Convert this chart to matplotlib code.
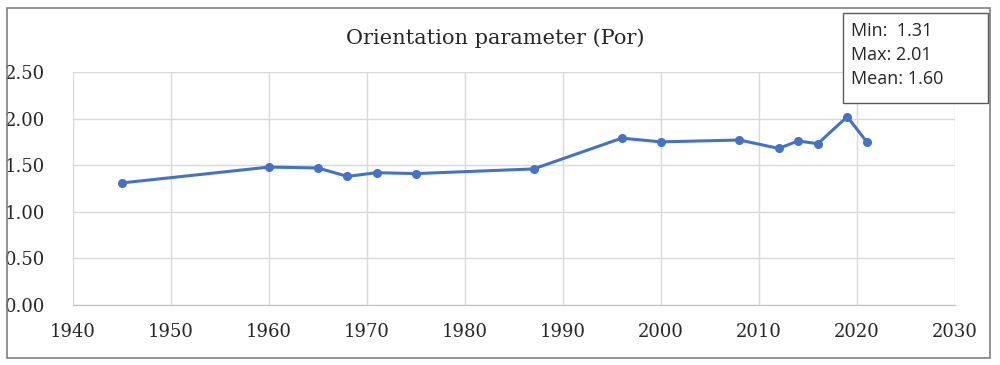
import matplotlib
matplotlib.use("Agg")
import matplotlib.pyplot as plt
from matplotlib.patches import Rectangle

# Orientation parameter values
years = [1945, 1960, 1965, 1968, 1971, 1975, 1987, 1996, 2000, 2008, 2012, 2014, 2016, 2019, 2021]
por = [1.31, 1.48, 1.47, 1.38, 1.42, 1.41, 1.46, 1.79, 1.75, 1.77, 1.68, 1.76, 1.73, 2.02, 1.75]
stats_lines = ["Min:  1.31", "Max: 2.01", "Mean: 1.60"]

fig = plt.figure(figsize=(10, 3.65), dpi=100)
ax = fig.add_axes([0.073, 0.164, 0.882, 0.639])

# outer frame around the whole chart
fig.patches.append(Rectangle((0.007, 0.019), 0.983, 0.959, transform=fig.transFigure,
                             fill=False, edgecolor="#7f7f7f", linewidth=1.2))

ax.plot(years, por, color="#4472C4", linewidth=2.2, marker="o", markersize=5.5, zorder=3)

ax.set_xlim(1940, 2030)
ax.set_ylim(0, 2.5)
ax.set_xticks(range(1940, 2031, 10))
ax.set_yticks([0, 0.5, 1.0, 1.5, 2.0, 2.5])
ax.set_yticklabels(["%.2f" % v for v in [0, 0.5, 1.0, 1.5, 2.0, 2.5]])
ax.grid(True, color="#d9d9d9", linewidth=1)
ax.set_axisbelow(True)
for s in ["top", "right", "left"]:
    ax.spines[s].set_visible(False)
ax.spines["bottom"].set_color("#bfbfbf")
ax.tick_params(length=0, labelsize=13, colors="#262626")
ax.tick_params(axis="x", pad=13)
ax.tick_params(axis="y", pad=20)
for lab in ax.get_xticklabels() + ax.get_yticklabels():
    lab.set_family("DejaVu Serif")

fig.text(0.495, 0.895, "Orientation parameter (Por)", ha="center", va="center",
         fontsize=15, family="DejaVu Serif", color="#262626")

# stats box
fig.patches.append(Rectangle((0.843, 0.718), 0.145, 0.247, transform=fig.transFigure,
                             facecolor="white", edgecolor="#595959", linewidth=1))
for i, line in enumerate(stats_lines):
    fig.text(0.851, 0.915 - i * 0.066, line, ha="left", va="center", fontsize=13,
             family="Open Sans", color="#262626")

fig.savefig("out.png", dpi=100)
